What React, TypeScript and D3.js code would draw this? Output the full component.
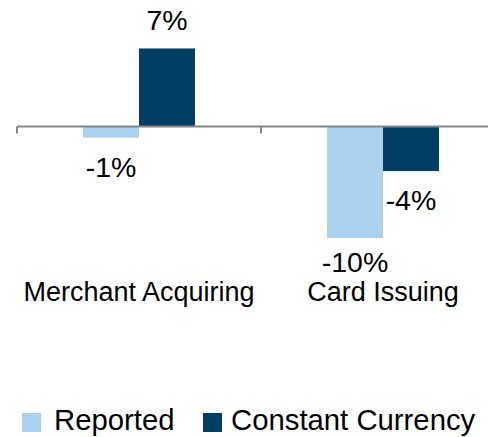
import { useRef, useEffect } from 'react';
import * as d3 from 'd3';

const WIDTH = 488;
const HEIGHT = 437;
const REPORTED_COLOR = '#abd1ee';
const CONSTANT_COLOR = '#003f63';
const AXIS_COLOR = '#868686';
const FONT = '"Liberation Sans", Arial, sans-serif';
const CAT_LABEL_Y = 301;

const categories = ['Merchant Acquiring', 'Card Issuing'];
const seriesNames = ['Reported', 'Constant Currency'];
const reported = [-1, -10];
const constantCurrency = [7, -4];

function App() {
  const svgRef = useRef<SVGSVGElement>(null);

  useEffect(() => {
    const svg = d3.select(svgRef.current);
    svg.selectAll('*').remove();

    const rows = categories.map((c, i) => ({
      category: c,
      values: [
        { series: seriesNames[0], value: reported[i] },
        { series: seriesNames[1], value: constantCurrency[i] },
      ],
    }));

    const x = d3.scaleBand<string>()
      .domain(categories)
      .range([17, 505])
      .padding(0);

    const xInner = d3.scaleBand<string>()
      .domain(seriesNames)
      .range([0, x.bandwidth()])
      .paddingInner(0)
      .paddingOuter(1.18);

    const y = d3.scaleLinear()
      .domain([-12, 8])
      .range([260.3, 37.3]);

    const color = d3.scaleOrdinal<string, string>()
      .domain(seriesNames)
      .range([REPORTED_COLOR, CONSTANT_COLOR]);

    const g = svg.append('g');

    // Bars
    const groups = g.selectAll('.cat')
      .data(rows)
      .join('g')
      .attr('class', 'cat')
      .attr('transform', d => `translate(${x(d.category)},0)`);

    groups.selectAll('rect')
      .data(d => d.values)
      .join('rect')
      .attr('x', d => xInner(d.series)!)
      .attr('y', d => y(Math.max(0, d.value)))
      .attr('width', xInner.bandwidth())
      .attr('height', d => Math.abs(y(d.value) - y(0)))
      .attr('fill', d => color(d.series));

    // Value labels (negative ones below the bar, kept clear of the category labels)
    groups.selectAll('text')
      .data(d => d.values)
      .join('text')
      .attr('x', d => xInner(d.series)! + xInner.bandwidth() / 2)
      .attr('y', d => d.value >= 0
        ? y(d.value) - 18
        : Math.min(y(d.value) + 39, CAT_LABEL_Y - 29))
      .attr('text-anchor', 'middle')
      .attr('fill', '#000')
      .attr('font-size', 28.5)
      .attr('font-family', FONT)
      .text(d => d.value + '%');

    // X axis
    const axis = g.append('g')
      .attr('transform', `translate(0,${y(0)})`);
    axis.append('line')
      .attr('x1', 17).attr('x2', 505)
      .attr('stroke', AXIS_COLOR)
      .attr('stroke-width', 2);
    axis.selectAll('.tick')
      .data([...categories.map(c => x(c)!), 505])
      .join('line')
      .attr('class', 'tick')
      .attr('x1', d => d).attr('x2', d => d)
      .attr('y1', 0).attr('y2', 7)
      .attr('stroke', AXIS_COLOR)
      .attr('stroke-width', 2);

    // Category labels
    g.selectAll('.cat-label')
      .data(categories)
      .join('text')
      .attr('class', 'cat-label')
      .attr('x', d => x(d)! + x.bandwidth() / 2)
      .attr('y', CAT_LABEL_Y)
      .attr('text-anchor', 'middle')
      .attr('fill', '#000')
      .attr('font-size', 27)
      .attr('font-family', FONT)
      .text(d => d);

    // Legend
    const legendPos = [22, 203];
    seriesNames.forEach((name, i) => {
      const lg = svg.append('g').attr('transform', `translate(${legendPos[i]}, 413)`);
      lg.append('rect')
        .attr('width', 19).attr('height', 19)
        .attr('fill', color(name));
      lg.append('text')
        .attr('x', i === 0 ? 32 : 28).attr('y', 17)
        .attr('fill', '#000')
        .attr('font-size', 29.3)
        .attr('font-family', FONT)
        .text(name);
    });
  }, []);

  return (
    <svg
      ref={svgRef}
      width={WIDTH}
      height={HEIGHT}
      style={{ position: 'absolute', left: 0, top: 0, background: '#fff' }}
    />
  );
}

export default App;
